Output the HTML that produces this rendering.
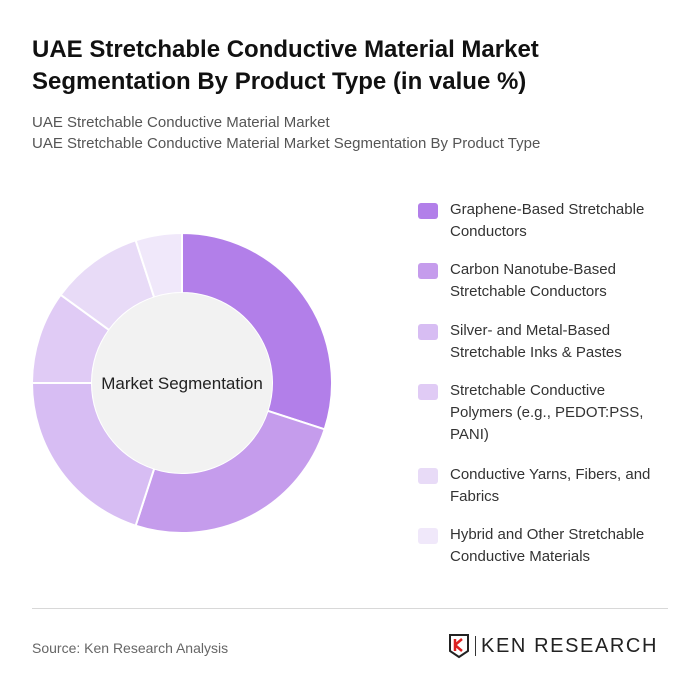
<!DOCTYPE html>
<html><head><meta charset="utf-8"><style>
body{margin:0;background:#fff;font-family:"Liberation Sans",sans-serif;}
#wrap{position:relative;width:700px;height:695px;overflow:hidden;}
.t{position:absolute;left:32px;top:34px;font-size:24px;font-weight:bold;color:#111;line-height:32px;}
.s{position:absolute;left:32px;font-size:15px;color:#555;}
.leg{position:absolute;left:418px;font-size:15px;color:#333;line-height:22px;}
.sw{position:absolute;left:0;top:4px;width:20px;height:16px;border-radius:3px;}
.lt{position:absolute;left:32px;width:300px;}
</style></head><body><div id="wrap">
<div class="t">UAE Stretchable Conductive Material Market<br>Segmentation By Product Type (in value %)</div>
<div class="s" style="top:114px">UAE Stretchable Conductive Material Market</div>
<div class="s" style="top:135px">UAE Stretchable Conductive Material Market Segmentation By Product Type</div>
<svg id="donut" width="700" height="695" style="position:absolute;left:0;top:0"></svg>
<div id="legend"></div>
<div style="position:absolute;left:32px;top:608px;width:636px;height:1px;background:#d8d8d8"></div>
<div class="s" style="top:640px;font-size:14px;color:#666">Source: Ken Research Analysis</div>
<div style="position:absolute;left:448px;top:633px;height:26px;display:flex;align-items:center">
<svg width="22" height="26"><path d="M2 2h18v16l-9 6-9-6z" fill="none" stroke="#222" stroke-width="2"/><path d="M7 6v12M7 12l7-6M7 12l7 6" stroke="#d22" stroke-width="2.5" fill="none"/></svg>
<span style="width:1px;height:20px;background:#333;margin:0 5px"></span>
<span style="font-size:20px;letter-spacing:1.6px;color:#222">KEN RESEARCH</span></div>
</div>
<script>
const categories=["Graphene-Based Stretchable|Conductors","Carbon Nanotube-Based|Stretchable Conductors","Silver- and Metal-Based|Stretchable Inks & Pastes","Stretchable Conductive|Polymers (e.g., PEDOT:PSS,|PANI)","Conductive Yarns, Fibers, and|Fabrics","Hybrid and Other Stretchable|Conductive Materials"];
const values=[30,25,20,10,10,5];
const colors=["#b27fe9","#c59cec","#d7bdf3","#e0cbf5","#e8dbf7","#f0e8fa"];
const NS="http://www.w3.org/2000/svg";
const svg=document.getElementById('donut');
const cx=182,cy=383,R=150,r=90;
const total=values.reduce((a,b)=>a+b,0);
let a0=0;
function pt(a,rad){return [cx+rad*Math.sin(a),cy-rad*Math.cos(a)];}
values.forEach((v,i)=>{
 const a1=a0+v/total*2*Math.PI;const lg=(a1-a0)>Math.PI?1:0;
 const [x0,y0]=pt(a0,R),[x1,y1]=pt(a1,R),[x2,y2]=pt(a1,r),[x3,y3]=pt(a0,r);
 const p=document.createElementNS(NS,'path');
 p.setAttribute('d',`M${x0} ${y0}A${R} ${R} 0 ${lg} 1 ${x1} ${y1}L${x2} ${y2}A${r} ${r} 0 ${lg} 0 ${x3} ${y3}Z`);
 p.setAttribute('fill',colors[i]);p.setAttribute('stroke','#fff');p.setAttribute('stroke-width','2');
 
 
 svg.appendChild(p);a0=a1;
});
const c=document.createElementNS(NS,'circle');c.setAttribute('cx',cx);c.setAttribute('cy',cy);c.setAttribute('r',r);c.setAttribute('fill','#f2f2f2');


svg.appendChild(c);
const t=document.createElementNS(NS,'text');t.setAttribute('x',cx);t.setAttribute('y',cy+6);t.setAttribute('text-anchor','middle');t.setAttribute('font-size','17');t.setAttribute('fill','#222');t.setAttribute('font-family','Liberation Sans, sans-serif');t.textContent='Market Segmentation';


svg.appendChild(t);
const legend=document.getElementById('legend');
const tops=[199,259,320,380,464,524];
categories.forEach((cat,i)=>{
 const d=document.createElement('div');d.className='leg';d.style.top=tops[i]+'px';
 
 
 d.innerHTML=`<div class="sw" style="background:${colors[i]}"></div><div class="lt">${cat.split('|').join('<br>')}</div>`;
 legend.appendChild(d);
});
</script></body></html>
